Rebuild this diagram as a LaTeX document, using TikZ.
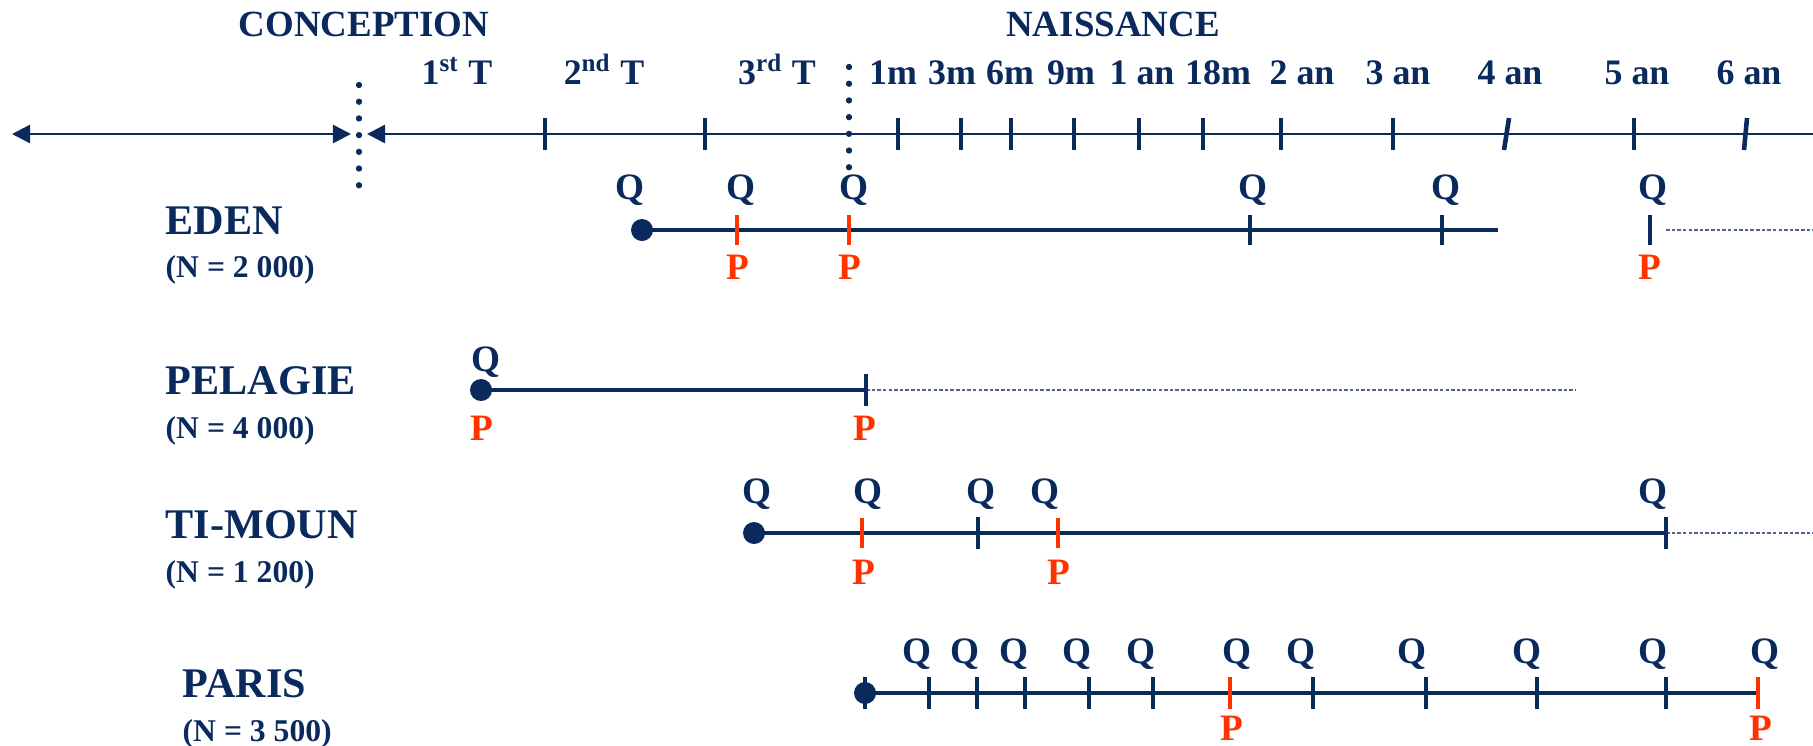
\documentclass[tikz,border=0pt]{standalone}
\usepackage{fontspec}
\setmainfont{Liberation Serif}
\usepackage{xcolor}
\usepackage{tikz}
\usetikzlibrary{arrows.meta}
\definecolor{navy}{RGB}{10,42,94}
\definecolor{pcol}{RGB}{255,51,0}
\definecolor{dashcol}{RGB}{80,100,145}
\tikzset{
  taxis/.style={draw=navy,line width=0.75pt},
  rowline/.style={draw=navy,line width=1.25pt},
  tk/.style={draw=navy,line width=1.3pt},
  ptk/.style={draw=pcol,line width=1.3pt},
  later/.style={draw=dashcol,line width=0.5pt,dash pattern=on 1pt off 0.6pt},
  dotline/.style={draw=navy,line width=1.8pt,line cap=round,dash pattern=on 0pt off 4.75pt},
  headlab/.style={font=\fontsize{10.5}{12}\selectfont\bfseries,text=navy,anchor=base,inner sep=0pt},
  lab/.style={font=\fontsize{10.2}{12}\selectfont\bfseries,text=navy,anchor=base,inner sep=0pt},
  qlab/.style={lab,font=\fontsize{10.6}{12}\selectfont\bfseries},
  plab/.style={qlab,text=pcol},
  grp/.style={font=\fontsize{12}{14}\selectfont\bfseries,text=navy,anchor=base west,inner sep=0pt},
  cnt/.style={font=\fontsize{9}{11}\selectfont\bfseries,text=navy,anchor=base west,inner sep=0pt},
  tip/.tip={Triangle[length=0.18cm,width=0.18cm]}
}
\begin{document}
\begin{tikzpicture}[x=0.01cm,y=-0.01cm]
\useasboundingbox (0,0) rectangle (1813,745);

% time axis
\node[headlab] (conc) at (364,36) {CONCEPTION};
\node[headlab] (nais) at (1113,36) {NAISSANCE};
\coordinate (a0) at (12,134);
\coordinate (a1) at (351,134);
\coordinate (a2) at (367,134);
\coordinate (a3) at (1813,134);
\draw[taxis,tip-tip] (a0) -- (a1);
\draw[taxis,tip-] (a2) -- (a3);
\draw[dotline] (359,85) -- (359,186);
\draw[dotline] (849,67) -- (849,169);
\foreach \x in {545,705,898,961,1011,1074,1139,1203,1281,1393,1634}
  \draw[tk] (\x,118) -- (\x,150);
\draw[tk] (1509,118) -- (1504,150);
\draw[tk] (1747,118) -- (1744,150);
\node[lab] (t1) at (457,84) {1\textsuperscript{st} T};
\node[lab] (t2) at (604,84) {2\textsuperscript{nd} T};
\node[lab] (t3) at (777,84) {3\textsuperscript{rd} T};
\foreach \x/\t in {893/1m,952/3m,1010/6m,1071/9m,1142/1 an,1218/18m,1302/2 an,1398/3 an,1510/4 an,1637/5 an,1749/6 an}
  \node[lab] (m\x) at (\x,84) {\t};

% EDEN
\node[grp] (eden) at (165,234) {EDEN};
\node[cnt] (edenN) at (165,277) {(N = 2 000)};
\coordinate (e0) at (642,230);
\coordinate (e1) at (1498,230);
\coordinate (e2) at (1666,230);
\coordinate (e3) at (1813,230);
\draw[rowline] (e0) -- (e1);
\draw[later] (e2) -- (e3);
\fill[navy] (e0) circle[radius=0.11cm];
\foreach \x in {737,849} \draw[ptk] (\x,215) -- (\x,245);
\foreach \x in {1250,1442,1650} \draw[tk] (\x,215) -- (\x,245);
\foreach \x in {630,741,854,1253,1446,1653} \node[qlab] (eq\x) at (\x,199) {Q};
\foreach \x in {738,850,1650} \node[plab] (ep\x) at (\x,279) {P};

% PELAGIE
\node[grp] (pela) at (165,394) {PELAGIE};
\node[cnt] (pelaN) at (165,438) {(N = 4 000)};
\coordinate (g0) at (481,390);
\coordinate (g1) at (866,390);
\coordinate (g2) at (1575,390);
\draw[rowline] (g0) -- (g1);
\draw[later] (g1) -- (g2);
\fill[navy] (g0) circle[radius=0.11cm];
\draw[tk] (866,374) -- (866,406);
\node[qlab] (gq) at (486,371) {Q};
\node[plab] (gp1) at (482,440) {P};
\node[plab] (gp2) at (865,440) {P};

% TI-MOUN
\node[grp] (timo) at (165,538) {TI-MOUN};
\node[cnt] (timoN) at (165,582) {(N = 1 200)};
\coordinate (m0) at (754,533);
\coordinate (m1) at (1666,533);
\coordinate (m2) at (1813,533);
\draw[rowline] (m0) -- (m1);
\draw[later] (m1) -- (m2);
\fill[navy] (m0) circle[radius=0.11cm];
\foreach \x in {862,1058} \draw[ptk] (\x,518) -- (\x,548);
\foreach \x in {978,1666} \draw[tk] (\x,517) -- (\x,549);
\foreach \x in {757,868,981,1045,1653} \node[qlab] (mq\x) at (\x,503) {Q};
\foreach \x in {864,1059} \node[plab] (mp\x) at (\x,584) {P};

% PARIS
\node[grp] (pari) at (182,697) {PARIS};
\node[cnt] (pariN) at (182,741) {(N = 3 500)};
\coordinate (s0) at (865,693);
\coordinate (s1) at (1758,693);
\draw[rowline] (s0) -- (s1);
\fill[navy] (s0) circle[radius=0.11cm];
\foreach \x in {865,929,977,1025,1089,1153,1313,1426,1537,1666} \draw[tk] (\x,677) -- (\x,709);
\foreach \x in {1230,1758} \draw[ptk] (\x,677) -- (\x,709);
\foreach \x in {917,965,1014,1077,1141,1237,1301,1412,1527,1653,1765} \node[qlab] (sq\x) at (\x,663) {Q};
\foreach \x in {1232,1761} \node[plab] (sp\x) at (\x,740) {P};
\end{tikzpicture}
\end{document}
